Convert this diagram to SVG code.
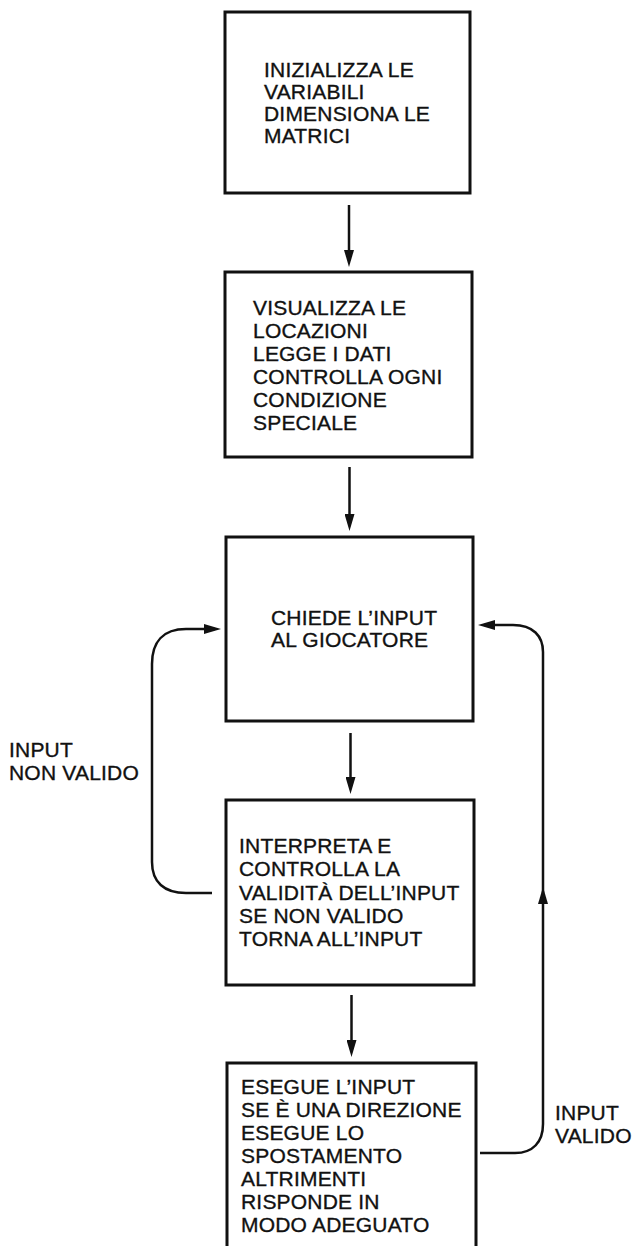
<svg xmlns="http://www.w3.org/2000/svg" width="634" height="1246" viewBox="0 0 634 1246">
<style>
.box{fill:#fff;stroke:#111;stroke-width:3}
.t{font-family:"Liberation Sans",Arial,sans-serif;font-size:21px;fill:#111;stroke:#111;stroke-width:0.35;letter-spacing:0.2px}
.c{fill:none;stroke:#111;stroke-width:2.5}
</style>
<defs>
<marker id="ah" viewBox="0 0 17 10" refX="11" refY="5" markerWidth="17" markerHeight="10" markerUnits="userSpaceOnUse" orient="auto">
<path d="M0,0 L17,5 L0,10 Z" fill="#111"/>
</marker>
</defs>
<rect width="634" height="1246" fill="#fff"/>
<g id="connectors">
<path class="c" d="M349,205 L349,261" marker-end="url(#ah)"/>
<path class="c" d="M349.5,467 L349.5,525" marker-end="url(#ah)"/>
<path class="c" d="M350.5,733 L350.5,788" marker-end="url(#ah)"/>
<path class="c" d="M351.5,995 L351.5,1051" marker-end="url(#ah)"/>
<path class="c" d="M212,893 L186,893 C164,893 152,882 152,862 L152,664 C152,642 163,629 186,629 L215,629" marker-end="url(#ah)"/>
<path class="c" d="M480,1153 L515,1153 C533,1153 543,1142 543,1124 L543,893" marker-end="url(#ah)"/>
<path class="c" d="M543,893 L543,652 C543,636 533,625 513,625 L484,625" marker-end="url(#ah)"/>
</g>
<g id="n1">
<rect class="box" x="225" y="12" width="245" height="181"/>
<text class="t" x="264" y="77">INIZIALIZZA LE</text>
<text class="t" x="264" y="99">VARIABILI</text>
<text class="t" x="264" y="121">DIMENSIONA LE</text>
<text class="t" x="264" y="143">MATRICI</text>
</g>
<g id="n2">
<rect class="box" x="225" y="272" width="247" height="185"/>
<text class="t" x="253" y="315">VISUALIZZA LE</text>
<text class="t" x="253" y="338">LOCAZIONI</text>
<text class="t" x="253" y="361">LEGGE I DATI</text>
<text class="t" x="253" y="384">CONTROLLA OGNI</text>
<text class="t" x="253" y="407">CONDIZIONE</text>
<text class="t" x="253" y="430">SPECIALE</text>
</g>
<g id="n3">
<rect class="box" x="226" y="537" width="247" height="184"/>
<text class="t" x="271" y="625">CHIEDE L’INPUT</text>
<text class="t" x="271" y="647">AL GIOCATORE</text>
</g>
<g id="n4">
<rect class="box" x="226" y="800" width="248" height="185"/>
<text class="t" x="239" y="853">INTERPRETA E</text>
<text class="t" x="239" y="876">CONTROLLA LA</text>
<text class="t" x="239" y="900">VALIDITÀ DELL’INPUT</text>
<text class="t" x="239" y="923">SE NON VALIDO</text>
<text class="t" x="239" y="946">TORNA ALL’INPUT</text>
</g>
<g id="n5">
<rect class="box" x="227" y="1063" width="249" height="200"/>
<text class="t" x="241" y="1094">ESEGUE L’INPUT</text>
<text class="t" x="241" y="1117">SE È UNA DIREZIONE</text>
<text class="t" x="241" y="1140">ESEGUE LO</text>
<text class="t" x="241" y="1163">SPOSTAMENTO</text>
<text class="t" x="241" y="1186">ALTRIMENTI</text>
<text class="t" x="241" y="1209">RISPONDE IN</text>
<text class="t" x="241" y="1232">MODO ADEGUATO</text>
</g>
<g id="label-nonvalido">
<text class="t" x="9" y="757">INPUT</text>
<text class="t" x="9" y="780">NON VALIDO</text>
</g>
<g id="label-valido">
<text class="t" x="555" y="1120">INPUT</text>
<text class="t" x="555" y="1143">VALIDO</text>
</g>
</svg>
